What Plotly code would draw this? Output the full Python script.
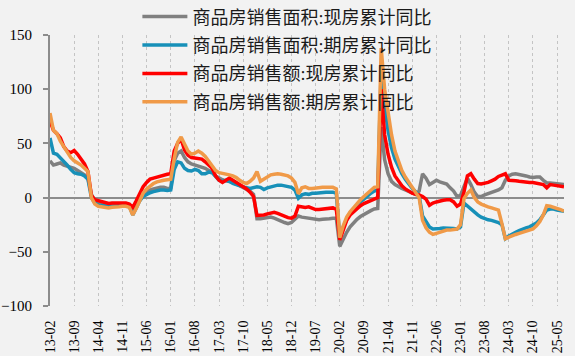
import plotly.graph_objects as go

# monthly categories 2013-02 .. 2025-07
months = []
for y in range(13, 26):
    for m in range(1, 13):
        if (y == 13 and m < 2) or (y == 25 and m > 7):
            continue
        months.append(f"{y:02d}-{m:02d}")

tick_labels = months[::7]

names = ["商品房销售面积:现房累计同比", "商品房销售面积:期房累计同比",
         "商品房销售额:现房累计同比", "商品房销售额:期房累计同比"]

area_spot = [
    34, 30, 31, 32, 30, 29, 28, 27, 25, 23, 21,
    18, 3, -3, -5, -6, -6.5, -7, -7, -7, -6.5, -6, -6.5,
    -7, -12, -6, 0, 3, 5, 7, 8, 9, 9.5, 9.5, 8.5,
    9, 34, 41, 43, 37, 33, 31, 30, 29.5, 28.5, 27, 25,
    24, 20, 18, 16.5, 15.5, 15, 14, 12.5, 11, 9.5, 8, 6,
    3, -19.5, -19.5, -19, -18, -18, -19, -20.5, -21.5, -23, -24, -23,
    -20, -17, -18, -18.5, -19, -19.5, -20, -20.5, -20, -20, -19.5, -19,
    -19, -45, -38, -32, -27, -23, -20, -17.5, -15.5, -13.5, -12, -10.5,
    -10, 65, 35, 22, 15, 12, 10, 8.5, 7, 5.5, 4, 3,
    6, 22, 18, 12, 14, 16, 14.5, 13.5, 12.5, 9, 6, 1,
    2, 10, 18, 12, 5, 1, 1, 2.5, 3.5, 4.5, 5.5, 7,
    9, 16, 20, 21.5, 22, 21.5, 20.5, 20, 19, 18.5, 19, 19,
    16, 13.5, 13.5, 13, 12.5, 12, 12,
]
area_forward = [
    55, 41, 40, 37, 33, 30, 26, 23, 22, 21.5, 20,
    17, 0, -5, -7, -7.5, -8, -8, -8, -8, -7.5, -7.5, -8,
    -8, -16, -10, -3, 1, 3, 4.5, 5.5, 6.5, 7, 7, 6.5,
    7, 26, 33, 32, 27, 25, 24.5, 26, 25, 22, 22, 23.5,
    23, 20, 16, 15, 16, 15, 13, 12, 11, 9.5, 9, 8.5,
    9, 10, 9.5, 7.5, 9, 10, 10.5, 11.5, 11.5, 11, 10.5, 9.5,
    7, -0.5, 2.5, 3.5, 3, 4, 4, 4.5, 5, 5, 5, 5,
    4, -37, -27, -19.5, -14, -10.5, -7, -4, -1.5, 1.5, 4, 6,
    7, 118, 85, 62, 46, 35.5, 28, 22, 17, 12.5, 8.5, 5.5,
    2, -17, -22, -27, -29, -29, -28.5, -28, -28, -28, -28.5, -29,
    -27, -5, -8, -10, -13, -16, -18, -19.5, -20.5, -21, -22, -23,
    -25, -38, -35.5, -33.5, -32, -30.5, -29, -28, -27, -25.5, -23.5, -20.5,
    -16, -11.5, -10.5, -10.5, -11.5, -12, -12.5,
]
amount_spot = [
    71, 62, 59, 55, 47, 43, 41.5, 43.5, 40, 35.5, 31,
    24, 2, -2, -3, -4, -5, -5.5, -5, -5, -5, -4.5, -5,
    -6, -9, -3, 4, 10, 14, 17, 18, 19, 20, 21, 21.5,
    22, 43, 50, 54, 44, 39, 37, 36.5, 36, 35.5, 33, 30,
    27, 20, 16, 14, 16, 18, 16, 14, 12, 10, 8, 5,
    1, -16.5, -16.5, -16, -15, -14, -13.5, -14.5, -16, -17.5, -18.5, -19,
    -17, -8, -8.5, -9, -8.5, -9.5, -11, -11, -10.5, -10.5, -10, -9.5,
    -11, -39, -30, -21, -16, -13, -10, -7.5, -5.5, -4, -2.5, -1,
    0, 100, 58, 40, 28, 20, 15.5, 11, 8, 6, 4, 3,
    2.5, 1, -1.5, -7, -5, -4, -3, -2.5, -2, -2, -4, -8,
    -6, 5, 20, 22, 17, 13, 12.5, 13, 14, 15.5, 17, 19.5,
    21, 22, 16, 16, 15.5, 15, 14.5, 14, 14, 14, 13.5, 12.5,
    12, 9, 12, 11.5, 11, 10.5, 10,
]
amount_forward = [
    78, 62, 59, 52, 47, 42, 37, 34, 32, 30, 27,
    24, 0, -6, -8, -8.5, -9, -9.5, -9, -9, -8.5, -8, -8,
    -9, -16, -10, -2, 4, 8, 11, 13, 14.5, 15.5, 16, 16.5,
    17, 36, 51, 56, 50, 43, 40, 41, 43, 41, 38, 34,
    30, 25, 23, 22.5, 22, 21, 20, 18.5, 16, 14, 13, 15,
    18, 24, 15, 17, 19.5, 21, 21.5, 22, 21.5, 21, 20, 18,
    14, 3.5, 9, 10, 8.5, 8.5, 9, 9.5, 9.5, 9.5, 9.5, 9.5,
    8, -37, -26, -18, -13, -9, -5, -2, 1, 4, 7, 9.5,
    10, 138, 100, 77, 58, 43, 34, 25, 19, 14, 10, 5,
    0, -21, -28, -32, -34, -33, -32, -31, -30, -30, -29.5, -29,
    -25, -1, 4, 7, 0, -4, -6, -7.5, -8.5, -9.5, -10.5, -11.5,
    -24, -38, -36.5, -35, -34, -33, -32, -31, -30, -29, -26, -22,
    -16, -7.5, -8, -9, -9.5, -11, -12.5,
]

series = [area_spot, area_forward, amount_spot, amount_forward]
colors = ["#808080", "#1790B8", "#FF0000", "#F09A48"]

fig = go.Figure()
for i, (nm, vals, c) in enumerate(zip(names, series, colors)):
    fig.add_trace(go.Scatter(x=months, y=vals, name=nm, mode="lines",
                             line=dict(color=c, width=3.5),
                             legendgroup=f"g{i}"))

fig.update_layout(
    width=575, height=356,
    margin=dict(l=50, r=11, t=35, b=50, autoexpand=False),
    paper_bgcolor="#F2F2F2", plot_bgcolor="#F2F2F2",
    showlegend=True,
    legend=dict(x=0.17, y=1.135, xanchor="left", yanchor="top",
                bgcolor="rgba(0,0,0,0)", tracegroupgap=2, itemwidth=45,
                font=dict(family="Liberation Serif, Noto Sans CJK SC", size=18, color="#1A1A1A")),
    font=dict(family="Liberation Serif", color="#000000"),
)
fig.update_xaxes(
    type="category", range=[0, len(months) - 1], automargin=False,
    tickmode="array", tickvals=tick_labels, ticktext=tick_labels,
    tickangle=-90, tickfont=dict(family="Liberation Serif", size=14, color="#000000"),
    showgrid=True, gridcolor="#C4C4C4", gridwidth=1, griddash="dot",
    showline=False, ticks="outside", ticklen=8, tickcolor="rgba(0,0,0,0)",
    zeroline=False,
)
fig.update_yaxes(
    range=[-100, 150], dtick=50, tick0=0, automargin=False,
    showgrid=False, showline=True, linecolor="#8C8C8C", linewidth=2,
    ticks="outside", ticklen=5, tickcolor="#8C8C8C", tickwidth=1.5,
    ticklabelstandoff=8,
    tickfont=dict(family="Liberation Serif", size=15, color="#000000"),
    zeroline=True, zerolinecolor="#8C8C8C", zerolinewidth=2,
)

fig.write_html(
    "out.html",
    config={"displayModeBar": False},
    post_script="document.body.style.margin='0px';document.body.style.background='#F2F2F2';",
)
